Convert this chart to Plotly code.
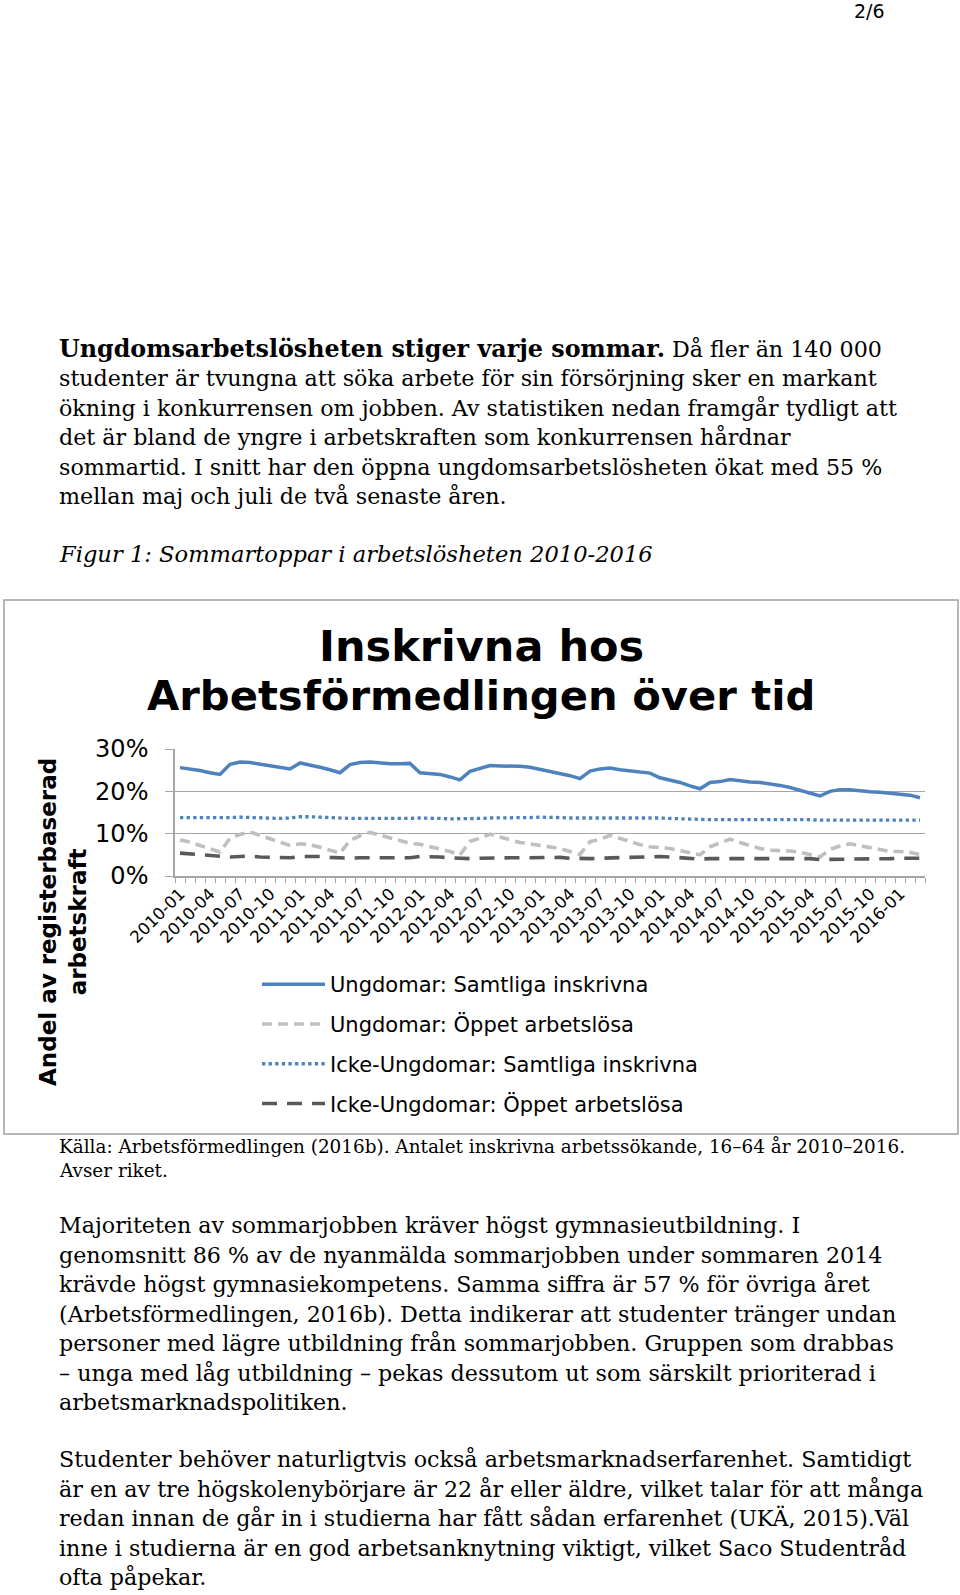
import plotly.graph_objects as go

W, H = 960, 1595

months = [f"{y}-{m:02d}" for y in range(2010, 2017) for m in range(1, 13)][:75]
tick_labels = months[::3][:25]

ung_samtliga = [
    25.6, 25.3, 24.9, 24.4, 24.0, 26.4, 26.9, 26.8, 26.4, 26.0, 25.7, 25.3,
    26.7, 26.3, 25.7, 25.1, 24.4, 26.3, 26.8, 26.9, 26.6, 26.5, 26.5, 26.6,
    24.4, 24.3, 24.0, 23.4, 22.7, 24.7, 25.3, 26.1, 26.0, 26.0, 25.9, 25.7,
    25.2, 24.8, 24.3, 23.7, 23.0, 24.8, 25.3, 25.5, 25.1, 24.8, 24.5, 24.3,
    23.2, 22.7, 22.1, 21.3, 20.6, 22.1, 22.3, 22.8, 22.4, 22.2, 22.1, 21.8,
    21.4, 20.9, 20.3, 19.6, 18.9, 20.0, 20.4, 20.4, 20.1, 19.9, 19.8, 19.6,
    19.5, 19.1, 18.5]

ung_oppet = [
    8.5, 8.0, 7.2, 6.4, 5.7, 8.9, 9.8, 10.4, 9.7, 8.8, 8.0, 7.2,
    7.6, 7.4, 6.8, 6.0, 5.4, 8.4, 9.5, 10.3, 9.6, 8.9, 8.2, 7.7,
    7.5, 7.0, 6.5, 5.8, 5.0, 8.2, 8.9, 9.9, 9.2, 8.5, 7.9, 7.6,
    7.3, 6.9, 6.5, 5.8, 5.1, 8.1, 8.7, 9.6, 8.8, 8.1, 7.4, 6.9,
    6.7, 6.5, 6.0, 5.6, 5.0, 6.9, 7.7, 8.7, 7.9, 7.1, 6.5, 6.1,
    6.1, 5.9, 5.6, 5.1, 4.5, 6.3, 7.1, 7.6, 7.1, 6.6, 6.2, 5.8,
    5.8, 5.6, 5.0]

icke_samtliga = [
    13.8, 13.8, 13.7, 13.7, 13.7, 13.8, 13.9, 13.8, 13.7, 13.6, 13.6, 13.7,
    14.0, 14.0, 13.9, 13.7, 13.6, 13.6, 13.6, 13.6, 13.5, 13.5, 13.5, 13.6,
    13.7, 13.7, 13.6, 13.5, 13.5, 13.5, 13.6, 13.7, 13.7, 13.7, 13.7, 13.8,
    13.9, 13.9, 13.8, 13.7, 13.7, 13.8, 13.8, 13.8, 13.7, 13.7, 13.7, 13.7,
    13.7, 13.6, 13.5, 13.4, 13.3, 13.3, 13.3, 13.3, 13.3, 13.3, 13.3, 13.3,
    13.3, 13.4, 13.3, 13.3, 13.2, 13.2, 13.3, 13.3, 13.3, 13.3, 13.3, 13.3,
    13.3, 13.3, 13.2]

icke_oppet = [
    5.4, 5.2, 4.9, 4.7, 4.5, 4.5, 4.6, 4.7, 4.5, 4.4, 4.3, 4.3,
    4.6, 4.7, 4.6, 4.4, 4.2, 4.2, 4.3, 4.3, 4.2, 4.2, 4.2, 4.3,
    4.6, 4.6, 4.5, 4.3, 4.1, 4.1, 4.2, 4.3, 4.3, 4.3, 4.3, 4.3,
    4.5, 4.5, 4.4, 4.2, 4.1, 4.1, 4.2, 4.3, 4.3, 4.3, 4.4, 4.6,
    4.6, 4.5, 4.3, 4.2, 4.0, 4.1, 4.1, 4.1, 4.1, 4.1, 4.2, 4.2,
    4.3, 4.3, 4.2, 4.1, 3.9, 3.9, 4.0, 4.0, 4.0, 4.0, 4.1, 4.1,
    4.2, 4.2, 4.2]

series_names = ["Ungdomar: Samtliga inskrivna", "Ungdomar: Öppet arbetslösa",
                "Icke-Ungdomar: Samtliga inskrivna", "Icke-Ungdomar: Öppet arbetslösa"]

para1 = [
    "<span style='font-size:23.8px'><b>Ungdomsarbetslösheten stiger varje sommar.</b></span> Då fler än 140 000",
    "studenter är tvungna att söka arbete för sin försörjning sker en markant",
    "ökning i konkurrensen om jobben. Av statistiken nedan framgår tydligt att",
    "det är bland de yngre i arbetskraften som konkurrensen hårdnar",
    "sommartid. I snitt har den öppna ungdomsarbetslösheten ökat med 55 %",
    "mellan maj och juli de två senaste åren.",
]
caption = "Figur 1: Sommartoppar i arbetslösheten 2010-2016"
source = [
    "Källa: Arbetsförmedlingen (2016b). Antalet inskrivna arbetssökande, 16–64 år 2010–2016.",
    "Avser riket.",
]
para2 = [
    "Majoriteten av sommarjobben kräver högst gymnasieutbildning. I",
    "genomsnitt 86 % av de nyanmälda sommarjobben under sommaren 2014",
    "krävde högst gymnasiekompetens. Samma siffra är 57 % för övriga året",
    "(Arbetsförmedlingen, 2016b). Detta indikerar att studenter tränger undan",
    "personer med lägre utbildning från sommarjobben. Gruppen som drabbas",
    "– unga med låg utbildning – pekas dessutom ut som särskilt prioriterad i",
    "arbetsmarknadspolitiken.",
]
para3 = [
    "Studenter behöver naturligtvis också arbetsmarknadserfarenhet. Samtidigt",
    "är en av tre högskolenybörjare är 22 år eller äldre, vilket talar för att många",
    "redan innan de går in i studierna har fått sådan erfarenhet (UKÄ, 2015).Väl",
    "inne i studierna är en god arbetsanknytning viktigt, vilket Saco Studentråd",
    "ofta påpekar.",
]


def px(x):
    return x / W


def py(y):
    return 1 - y / H


xi = list(range(len(months)))
fig = go.Figure()
styles = [
    dict(color="#4F81BD", width=3.5, dash="solid"),
    dict(color="#BFBFBF", width=3.6, dash="10px,6px"),
    dict(color="#4F81BD", width=3.3, dash="dot"),
    dict(color="#595959", width=3.6, dash="15px,10px"),
]
for i, (name, vals) in enumerate(zip(series_names, [ung_samtliga, ung_oppet, icke_samtliga, icke_oppet])):
    fig.add_trace(go.Scatter(
        x=xi, y=[v / 100 for v in vals], mode="lines", name=name,
        line=styles[i], legendgroup=f"g{i}", showlegend=True))

sans = "DejaVu Sans"
serif = "DejaVu Serif"

fig.update_layout(
    width=W, height=H, autosize=False,
    margin=dict(l=0, r=0, t=0, b=0, pad=0),
    paper_bgcolor="white", plot_bgcolor="white",
    showlegend=True,
    legend=dict(x=px(257), y=py(964), xanchor="left", yanchor="top",
                font=dict(family=sans, size=21, color="#000"),
                tracegroupgap=9.5, itemwidth=63, bgcolor="rgba(0,0,0,0)"),
    xaxis=dict(domain=[px(175), px(925)], range=[-0.5, 74.5], automargin=False,
               tickmode="array", tickvals=xi[::3][:25], ticktext=tick_labels,
               tickangle=-45, ticks="", showgrid=False,
               showline=True, linecolor="#A6A6A6", linewidth=1.5,
               tickfont=dict(family=sans, size=16.5, color="#000"),
               minor=dict(tickmode="linear", tick0=-0.5, dtick=1, ticks="outside",
                          ticklen=5, tickcolor="#A6A6A6", tickwidth=1.2, showgrid=False),
               zeroline=False),
    yaxis=dict(domain=[py(876), py(749)], range=[0, 0.30], dtick=0.1, tick0=0,
               automargin=False,
               tickformat=".0%", showgrid=True, gridcolor="#A6A6A6", gridwidth=1.2,
               showline=True, linecolor="#A6A6A6", linewidth=1.5,
               ticks="outside", ticklen=8, tickcolor="#A6A6A6",
               ticklabelstandoff=12,
               tickfont=dict(family=sans, size=24, color="#000"),
               zeroline=False),
)

ann = []


def text(x, y, s, size, family=serif, xanchor="left", **kw):
    ann.append(dict(x=px(x), y=py(y), xref="paper", yref="paper", text=s,
                    showarrow=False, xanchor=xanchor, yanchor="middle",
                    font=dict(family=family, size=size, color="#000"), **kw))


text(887, 11, "2/6", 19, family=sans, xanchor="right")

body = 22.2
ys1 = [348.5, 378, 407.5, 437, 466.5, 496]
for s, y in zip(para1, ys1):
    text(57, y, s, body)
text(57, 554, "<i>" + caption + "</i>", 22.6)
for s, y in zip(source, [1146, 1170]):
    text(57, y, s, 18.4)
ys2 = [1225, 1254.5, 1284, 1313.5, 1343, 1372.5, 1402]
for s, y in zip(para2, ys2):
    text(57, y, s, body)
ys3 = [1459, 1488.5, 1518, 1547.5, 1577]
for s, y in zip(para3, ys3):
    text(57, y, s, body)

# chart title
text(481, 646, "<b>Inskrivna hos</b>", 43, family=sans, xanchor="center")
text(481, 696, "<b>Arbetsförmedlingen över tid</b>", 41.7, family=sans, xanchor="center")
# y axis title
ann.append(dict(x=px(63), y=py(922), xref="paper", yref="paper",
                text="<b>Andel av registerbaserad<br>arbetskraft</b>", showarrow=False,
                textangle=-90, xanchor="center", yanchor="middle",
                font=dict(family=sans, size=23, color="#000")))

fig.update_layout(annotations=ann)
fig.add_shape(type="rect", xref="paper", yref="paper",
              x0=px(4), x1=px(958), y0=py(1134), y1=py(600),
              line=dict(color="#A0A0A0", width=1.5))

fig.write_html("out.html", config={"displayModeBar": False},
               post_script="document.body.style.margin='0';document.body.style.padding='0';")
